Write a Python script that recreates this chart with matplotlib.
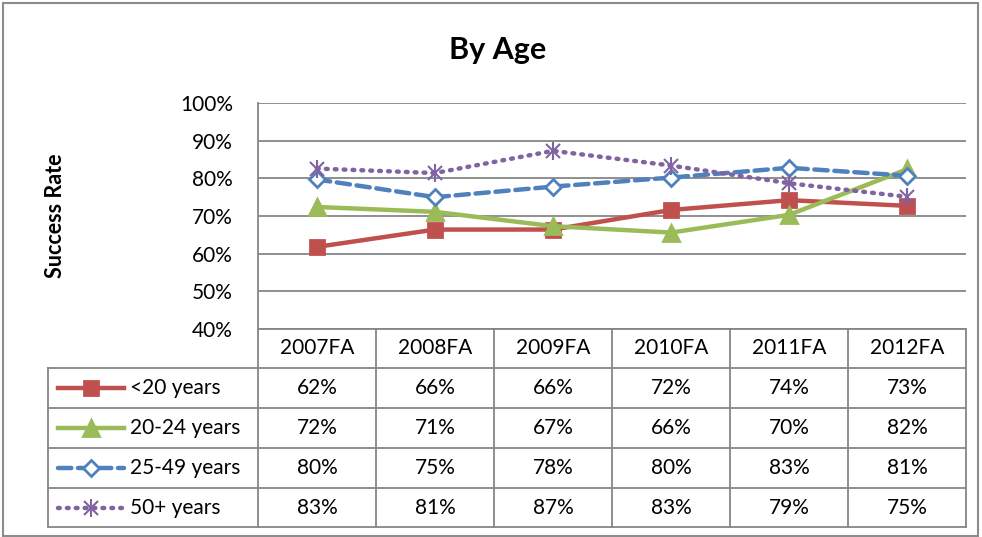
import matplotlib
matplotlib.use("Agg")
import matplotlib.pyplot as plt
from matplotlib.lines import Line2D
from matplotlib.patches import Rectangle

plt.rcParams['font.family'] = ['Lato', 'DejaVu Sans']

terms = ["2007FA", "2008FA", "2009FA", "2010FA", "2011FA", "2012FA"]
under20 = [61.8, 66.4, 66.4, 71.6, 74.2, 72.7]
age20_24 = [72.4, 71.1, 67.3, 65.6, 70.3, 82.4]
age25_49 = [79.7, 75.0, 77.8, 80.2, 82.8, 80.7]
age50plus = [82.6, 81.4, 87.3, 83.4, 78.7, 75.1]
series_names = ["<20 years", "20-24 years", "25-49 years", "50+ years"]
yticks = [40, 50, 60, 70, 80, 90, 100]

W, H = 982, 537
FS = 15
fig = plt.figure(figsize=(W / 100, H / 100), dpi=100)

def fx(px):
    return px / W

def fy(py):
    return 1 - py / H

# outer border
fig.add_artist(Rectangle((fx(3), fy(536)), fx(975), (533) / H, transform=fig.transFigure,
                         fill=False, edgecolor="#8c8c8c", lw=1.5))

L, R, T, B = 258, 966, 103, 329
ax = fig.add_axes([fx(L), fy(B), fx(R - L), (B - T) / H])

styles = [
    dict(color="#C0504D", ls="-", marker="s", mfc="#C0504D", ms=10),
    dict(color="#9BBB59", ls="-", marker="^", mfc="#9BBB59", ms=11),
    dict(color="#4F81BD", ls=(0, (3, 1.5)), marker="D", mfc="white", ms=8.5),
    dict(color="#8064A2", ls=(0, (0.4, 1.6)), marker=None, mfc="#8064A2", ms=10),
]
data = [under20, age20_24, age25_49, age50plus]
x = list(range(len(terms)))
for vals, st in zip(data, styles):
    ax.plot(x, vals, color=st["color"], ls=st["ls"], lw=3.2, dash_capstyle="round",
            marker=st["marker"], mfc=st["mfc"], mec=st["color"], mew=2, ms=st["ms"], zorder=3)
ax.plot(x, age50plus, ls="none", marker="x", ms=10, mew=1.5, color="#8064A2", zorder=4)
ax.plot(x, age50plus, ls="none", marker="|", ms=13, mew=1.5, color="#8064A2", zorder=4)

ax.set_xlim(-0.5, 5.5)
ax.set_ylim(40, 100)
ax.set_yticks(yticks)
ax.set_yticklabels([f"{v}%" for v in yticks], fontsize=FS)
ax.set_xticks([])
ax.tick_params(axis="y", length=0, pad=18)
ax.grid(axis="y", color="#868686", lw=1.3)
for s in ["top", "right", "bottom"]:
    ax.spines[s].set_visible(False)
ax.spines["left"].set_color("#868686")
ax.spines["left"].set_linewidth(1.3)
ax.set_axisbelow(True)

# title and axis label
fig.text(fx(498), fy(50), "By Age", ha="center", va="center", fontsize=22, fontweight="bold")
fig.text(fx(55), fy(216), "Success Rate", ha="center", va="center", rotation=90,
         fontsize=15.5, fontweight="bold")

# data table
grid_c = "#868686"
row_y = [329, 368, 408, 448, 488, 527]
TL = 48
colw = (R - L) / len(terms)

def hline(y, x0, x1):
    fig.add_artist(Line2D([fx(x0), fx(x1)], [fy(y), fy(y)], transform=fig.transFigure,
                          color=grid_c, lw=1.3))

def vline(xp, y0, y1):
    fig.add_artist(Line2D([fx(xp), fx(xp)], [fy(y0), fy(y1)], transform=fig.transFigure,
                          color=grid_c, lw=1.3))

hline(row_y[0], L, R)
for y in row_y[1:]:
    hline(y, TL, R)
vline(TL, row_y[1], row_y[-1])
for i in range(len(terms) + 1):
    vline(L + i * colw, row_y[0], row_y[-1])

for i, t in enumerate(terms):
    fig.text(fx(L + (i + 0.5) * colw), fy((row_y[0] + row_y[1]) / 2), t,
             ha="center", va="center", fontsize=FS)

for r, (name, vals, st) in enumerate(zip(series_names, data, styles)):
    yc = (row_y[r + 1] + row_y[r + 2]) / 2
    for i, v in enumerate(vals):
        fig.text(fx(L + (i + 0.5) * colw), fy(yc), f"{v:.0f}%",
                 ha="center", va="center", fontsize=FS)
    fig.text(fx(130), fy(yc), name, ha="left", va="center", fontsize=FS)
    # legend key
    fig.add_artist(Line2D([fx(58), fx(124)], [fy(yc), fy(yc)], transform=fig.transFigure,
                          color=st["color"], ls=st["ls"], lw=3.2, dash_capstyle="round"))
    if st["marker"]:
        fig.add_artist(Line2D([fx(91)], [fy(yc)], transform=fig.transFigure, ls="none",
                              marker=st["marker"], ms=st["ms"], mfc=st["mfc"],
                              mec=st["color"], mew=2))
    else:
        for m, ms in [("x", 10), ("|", 13)]:
            fig.add_artist(Line2D([fx(91)], [fy(yc)], transform=fig.transFigure, ls="none",
                                  marker=m, ms=ms, mew=1.5, color=st["color"]))

fig.savefig("out.png", dpi=100)
